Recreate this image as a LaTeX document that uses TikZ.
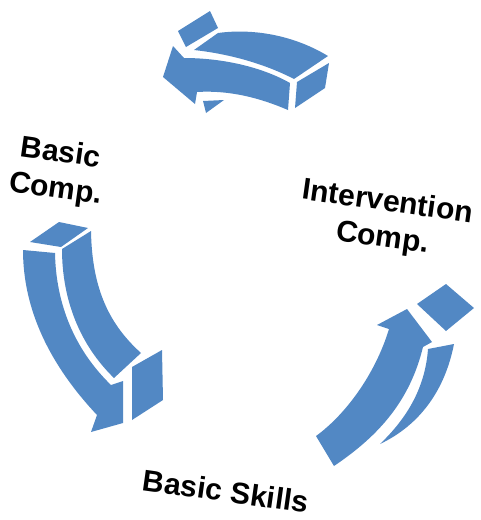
\documentclass[tikz,border=0pt]{standalone}
\usepackage{fontspec}
\setmainfont{Liberation Sans}
\usepackage{tikz}
\definecolor{cycleblue}{RGB}{82,136,196}

\begin{document}
\begin{tikzpicture}[
  x=1pt, y=-1pt,
  face/.style={fill=cycleblue, draw=none},
  lbl/.style={font=\fontsize{30}{36}\selectfont\bfseries, align=center,
    text=black, inner sep=0pt, rotate=-8},
]
\useasboundingbox (0,0) rectangle (481,520);

% TOP ARROW (pointing left)
\fill[face] (178,31) -- (210,11) -- (218,28) -- (186,47) -- cycle;
\fill[face] (194,50) -- (218,33) .. controls (255,28) and (295,36) .. (328,56)
  -- (294,79) .. controls (265,64) and (230,54) .. (194,50) -- cycle;
\fill[face] (163,77) -- (173,46) -- (184,58) .. controls (220,58) and (260,66) .. (290,83)
  -- (288,110) .. controls (260,98) and (230,90) .. (197,92) -- (195,104) -- cycle;
\fill[face] (297,82) -- (329,63) -- (325,88) -- (295,108) -- cycle;
\fill[face] (203,101) -- (224,100) -- (206,113) -- cycle;

% LEFT ARROW (pointing down)
\fill[face] (30,242) -- (59,222) -- (88,228) -- (61,247) -- cycle;
\fill[face] (23,250) -- (55,253) .. controls (56,305) and (75,350) .. (111,385)
  -- (123,381) -- (123,423) -- (91,432) -- (97,415)
  .. controls (50,365) and (23,310) .. (23,250) -- cycle;
\fill[face] (62,249) -- (91,231) .. controls (92,290) and (110,325) .. (141,353)
  -- (114,378) .. controls (80,345) and (62,300) .. (62,249) -- cycle;
\fill[face] (132,367) -- (162,350) -- (163,400) -- (132,420) -- cycle;

% RIGHT ARROW (pointing up)
\fill[face] (407,309) -- (432,342) -- (423,347) .. controls (410,400) and (380,435) .. (334,466)
  -- (316,436) .. controls (345,415) and (375,375) .. (389,329) -- (377,325) -- cycle;
\fill[face] (428,349) -- (454,344) .. controls (445,390) and (420,425) .. (380,444)
  .. controls (405,420) and (425,390) .. (428,349) -- cycle;
\fill[face] (417,304) -- (446,284) -- (474,308) -- (446,331) -- cycle;

% LABELS
\node[lbl] (basiccomp) at (58,172) {Basic\\Comp.};
\node[lbl] (intervention) at (385,221) {Intervention\\Comp.};
\node[lbl] (skills) at (226,491) {Basic Skills};
\end{tikzpicture}
\end{document}
